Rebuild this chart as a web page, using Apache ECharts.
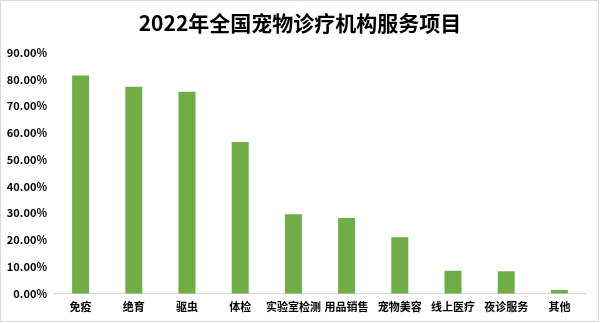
<!DOCTYPE html>
<html><head><meta charset="utf-8">
<script src="https://cdn.jsdelivr.net/npm/echarts@6/dist/echarts.min.js"></script>
<style>html,body{margin:0;padding:0;background:#fff}#c{width:600px;height:323px}</style>
</head><body><div id="c"></div>
<script>
const titleText = '2022年全国宠物诊疗机构服务项目';
const categories = ['免疫','绝育','驱虫','体检','实验室检测','用品销售','宠物美容','线上医疗','夜诊服务','其他'];
const values = [81.5, 77.3, 75.4, 56.6, 29.6, 28.2, 21.0, 8.5, 8.3, 1.3];
const yTicks = [0, 10, 20, 30, 40, 50, 60, 70, 80, 90];

const chart = echarts.init(document.getElementById('c'), null, {renderer:'canvas'});
const font = '"Noto Sans CJK SC", "Noto Sans", sans-serif';
chart.setOption({
  animation:false,
  backgroundColor:'#fff',
  textStyle:{fontFamily:font},
  title:{text:titleText,left:'center',top:8,textStyle:{fontSize:21,fontWeight:'bold',color:'#000',fontFamily:font}},
  graphic:[{type:'rect',shape:{x:0.5,y:0.5,width:598,height:321},style:{fill:'none',stroke:'#d9d9d9',lineWidth:1}}],
  grid:{left:54,right:14,top:52.7,bottom:29.5},
  xAxis:{type:'category',data:categories,
    axisLine:{lineStyle:{color:'#d9d9d9'}},axisTick:{show:false},
    axisLabel:{color:'#000',fontWeight:'bold',fontSize:11,margin:8,interval:0,fontFamily:font}},
  yAxis:{type:'value',min:yTicks[0],max:yTicks[yTicks.length-1],interval:10,
    splitLine:{show:false},axisLine:{show:false},axisTick:{show:false},
    axisLabel:{color:'#000',fontWeight:'bold',fontSize:11,margin:7,fontFamily:font,formatter:v=>v.toFixed(2)+'%'}},
  series:[{type:'bar',data:values,barWidth:17,itemStyle:{color:'#70ad47'}}]
});
</script></body></html>
